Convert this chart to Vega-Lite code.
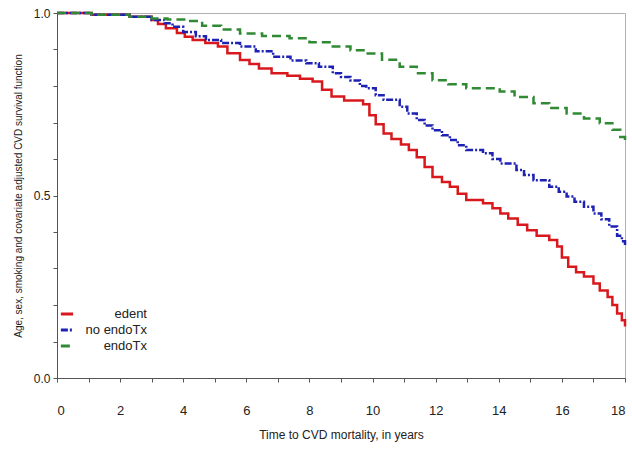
{
  "$schema": "https://vega.github.io/schema/vega-lite/v6.json",
  "width": 568,
  "height": 365,
  "autosize": {"type": "none"},
  "padding": {"left": 57, "top": 13, "right": 7, "bottom": 79},
  "background": "white",
  "config": {
    "font": "Liberation Sans",
    "view": {"stroke": "#b0b0b0", "strokeWidth": 1},
    "axis": {"grid": false, "domainColor": "#555", "tickColor": "#555", "labelColor": "#222", "titleColor": "#222"}
  },
  "datasets": {
    "km": [
      {"group": "edent", "t": 0, "s": 1.0},
      {"group": "edent", "t": 1.1, "s": 0.995},
      {"group": "edent", "t": 2.3, "s": 0.99},
      {"group": "edent", "t": 3.0, "s": 0.981},
      {"group": "edent", "t": 3.2, "s": 0.97},
      {"group": "edent", "t": 3.45, "s": 0.958},
      {"group": "edent", "t": 3.8, "s": 0.945},
      {"group": "edent", "t": 4.05, "s": 0.935},
      {"group": "edent", "t": 4.3, "s": 0.926},
      {"group": "edent", "t": 4.7, "s": 0.918},
      {"group": "edent", "t": 5.1, "s": 0.908},
      {"group": "edent", "t": 5.4, "s": 0.89},
      {"group": "edent", "t": 5.8, "s": 0.871},
      {"group": "edent", "t": 6.1, "s": 0.86},
      {"group": "edent", "t": 6.4, "s": 0.848},
      {"group": "edent", "t": 6.8, "s": 0.835},
      {"group": "edent", "t": 7.3, "s": 0.828},
      {"group": "edent", "t": 7.7, "s": 0.82},
      {"group": "edent", "t": 8.1, "s": 0.812},
      {"group": "edent", "t": 8.4, "s": 0.79},
      {"group": "edent", "t": 8.7, "s": 0.771},
      {"group": "edent", "t": 9.1, "s": 0.76},
      {"group": "edent", "t": 9.7, "s": 0.75},
      {"group": "edent", "t": 9.9, "s": 0.72},
      {"group": "edent", "t": 10.1, "s": 0.695},
      {"group": "edent", "t": 10.35, "s": 0.67},
      {"group": "edent", "t": 10.6, "s": 0.655},
      {"group": "edent", "t": 10.9, "s": 0.64},
      {"group": "edent", "t": 11.15, "s": 0.625},
      {"group": "edent", "t": 11.4, "s": 0.605},
      {"group": "edent", "t": 11.65, "s": 0.578},
      {"group": "edent", "t": 11.9, "s": 0.551},
      {"group": "edent", "t": 12.2, "s": 0.537},
      {"group": "edent", "t": 12.45, "s": 0.524},
      {"group": "edent", "t": 12.7, "s": 0.505},
      {"group": "edent", "t": 12.97, "s": 0.488},
      {"group": "edent", "t": 13.5, "s": 0.479},
      {"group": "edent", "t": 13.8, "s": 0.465},
      {"group": "edent", "t": 14.05, "s": 0.451},
      {"group": "edent", "t": 14.3, "s": 0.437},
      {"group": "edent", "t": 14.6, "s": 0.42},
      {"group": "edent", "t": 14.9, "s": 0.405},
      {"group": "edent", "t": 15.2, "s": 0.39},
      {"group": "edent", "t": 15.6, "s": 0.378},
      {"group": "edent", "t": 15.85, "s": 0.36},
      {"group": "edent", "t": 16.0, "s": 0.33},
      {"group": "edent", "t": 16.2, "s": 0.305},
      {"group": "edent", "t": 16.45, "s": 0.29},
      {"group": "edent", "t": 16.7, "s": 0.278},
      {"group": "edent", "t": 17.0, "s": 0.259},
      {"group": "edent", "t": 17.2, "s": 0.24},
      {"group": "edent", "t": 17.45, "s": 0.222},
      {"group": "edent", "t": 17.6, "s": 0.2},
      {"group": "edent", "t": 17.75, "s": 0.177},
      {"group": "edent", "t": 17.9, "s": 0.158},
      {"group": "edent", "t": 18.0, "s": 0.141},
      {"group": "no endoTx", "t": 0, "s": 1.0},
      {"group": "no endoTx", "t": 1.1, "s": 0.995},
      {"group": "no endoTx", "t": 2.3, "s": 0.99},
      {"group": "no endoTx", "t": 3.0, "s": 0.981},
      {"group": "no endoTx", "t": 3.4, "s": 0.972},
      {"group": "no endoTx", "t": 3.66, "s": 0.962},
      {"group": "no endoTx", "t": 4.0, "s": 0.948},
      {"group": "no endoTx", "t": 4.4, "s": 0.936},
      {"group": "no endoTx", "t": 4.72, "s": 0.926},
      {"group": "no endoTx", "t": 5.2, "s": 0.918},
      {"group": "no endoTx", "t": 5.8, "s": 0.908},
      {"group": "no endoTx", "t": 6.3, "s": 0.895},
      {"group": "no endoTx", "t": 6.85, "s": 0.88},
      {"group": "no endoTx", "t": 7.4, "s": 0.87},
      {"group": "no endoTx", "t": 7.9, "s": 0.862},
      {"group": "no endoTx", "t": 8.3, "s": 0.853},
      {"group": "no endoTx", "t": 8.74, "s": 0.835},
      {"group": "no endoTx", "t": 9.0, "s": 0.825},
      {"group": "no endoTx", "t": 9.3, "s": 0.815},
      {"group": "no endoTx", "t": 9.6, "s": 0.8},
      {"group": "no endoTx", "t": 9.8, "s": 0.794},
      {"group": "no endoTx", "t": 10.1, "s": 0.775},
      {"group": "no endoTx", "t": 10.35, "s": 0.762},
      {"group": "no endoTx", "t": 10.86, "s": 0.743},
      {"group": "no endoTx", "t": 11.1, "s": 0.725},
      {"group": "no endoTx", "t": 11.4, "s": 0.707},
      {"group": "no endoTx", "t": 11.65, "s": 0.692},
      {"group": "no endoTx", "t": 11.9, "s": 0.679},
      {"group": "no endoTx", "t": 12.2, "s": 0.665},
      {"group": "no endoTx", "t": 12.45, "s": 0.652},
      {"group": "no endoTx", "t": 12.7, "s": 0.638},
      {"group": "no endoTx", "t": 12.97, "s": 0.625},
      {"group": "no endoTx", "t": 13.5, "s": 0.616},
      {"group": "no endoTx", "t": 13.8, "s": 0.6},
      {"group": "no endoTx", "t": 14.05, "s": 0.588},
      {"group": "no endoTx", "t": 14.56, "s": 0.57},
      {"group": "no endoTx", "t": 14.8, "s": 0.556},
      {"group": "no endoTx", "t": 15.1, "s": 0.542},
      {"group": "no endoTx", "t": 15.6, "s": 0.524},
      {"group": "no endoTx", "t": 15.9, "s": 0.51},
      {"group": "no endoTx", "t": 16.15, "s": 0.497},
      {"group": "no endoTx", "t": 16.4, "s": 0.483},
      {"group": "no endoTx", "t": 16.7, "s": 0.469},
      {"group": "no endoTx", "t": 17.0, "s": 0.451},
      {"group": "no endoTx", "t": 17.25, "s": 0.435},
      {"group": "no endoTx", "t": 17.5, "s": 0.415},
      {"group": "no endoTx", "t": 17.75, "s": 0.39},
      {"group": "no endoTx", "t": 17.9, "s": 0.375},
      {"group": "no endoTx", "t": 18.0, "s": 0.36},
      {"group": "endoTx", "t": 0, "s": 1.0},
      {"group": "endoTx", "t": 1.1, "s": 0.995},
      {"group": "endoTx", "t": 2.3, "s": 0.99},
      {"group": "endoTx", "t": 3.0, "s": 0.985},
      {"group": "endoTx", "t": 3.5, "s": 0.982},
      {"group": "endoTx", "t": 4.08, "s": 0.978},
      {"group": "endoTx", "t": 4.6, "s": 0.965},
      {"group": "endoTx", "t": 5.2, "s": 0.955},
      {"group": "endoTx", "t": 5.8, "s": 0.944},
      {"group": "endoTx", "t": 6.5, "s": 0.937},
      {"group": "endoTx", "t": 7.37, "s": 0.931},
      {"group": "endoTx", "t": 8.0, "s": 0.92},
      {"group": "endoTx", "t": 8.74, "s": 0.908},
      {"group": "endoTx", "t": 9.3, "s": 0.898},
      {"group": "endoTx", "t": 9.8, "s": 0.889},
      {"group": "endoTx", "t": 10.3, "s": 0.872},
      {"group": "endoTx", "t": 10.86, "s": 0.853},
      {"group": "endoTx", "t": 11.4, "s": 0.835},
      {"group": "endoTx", "t": 11.9, "s": 0.816},
      {"group": "endoTx", "t": 12.4, "s": 0.805},
      {"group": "endoTx", "t": 12.97, "s": 0.794},
      {"group": "endoTx", "t": 14.03, "s": 0.785},
      {"group": "endoTx", "t": 14.5, "s": 0.77},
      {"group": "endoTx", "t": 15.1, "s": 0.753},
      {"group": "endoTx", "t": 15.6, "s": 0.74},
      {"group": "endoTx", "t": 16.15, "s": 0.725},
      {"group": "endoTx", "t": 16.7, "s": 0.711},
      {"group": "endoTx", "t": 17.2, "s": 0.698},
      {"group": "endoTx", "t": 17.6, "s": 0.68},
      {"group": "endoTx", "t": 17.85, "s": 0.66},
      {"group": "endoTx", "t": 18.0, "s": 0.643}
    ]
  },
  "data": {"name": "km"},
  "mark": {"type": "line", "interpolate": "step-after", "strokeWidth": 2.5},
  "encoding": {
    "x": {
      "field": "t", "type": "quantitative",
      "scale": {"domain": [0, 18], "nice": false, "zero": false},
      "axis": {
        "title": "Time to CVD mortality, in years",
        "values": [0, 1, 2, 3, 4, 5, 6, 7, 8, 9, 10, 11, 12, 13, 14, 15, 16, 17, 18],
        "labelExpr": "datum.value % 2 == 0 ? datum.label : ''",
        "labelFontSize": 13, "labelPadding": 22, "tickSize": 4,
        "titleFontSize": 12, "titleFontWeight": "normal", "titlePadding": 12
      }
    },
    "y": {
      "field": "s", "type": "quantitative",
      "scale": {"domain": [0, 1], "nice": false},
      "axis": {
        "title": "Age, sex, smoking and covariate adjusted CVD survival function",
        "values": [0, 0.1, 0.2, 0.3, 0.4, 0.5, 0.6, 0.7, 0.8, 0.9, 1],
        "labelExpr": "(datum.value == 0 || datum.value == 0.5 || datum.value == 1) ? format(datum.value, '.1f') : ''",
        "labelFontSize": 12, "labelPadding": 3, "tickSize": 4,
        "titleFontSize": 10, "titleFontWeight": "normal", "titlePadding": 10
      }
    },
    "color": {
      "field": "group", "type": "nominal",
      "scale": {"domain": ["edent", "no endoTx", "endoTx"], "range": ["#d8181c", "#1e22b4", "#2f8a33"]},
      "legend": {
        "title": null, "orient": "none", "legendX": 2, "legendY": 293,
        "symbolType": "stroke", "symbolSize": 150, "symbolStrokeWidth": 3,
        "labelFontSize": 13, "labelColor": "#222", "rowPadding": 1,
        "labelAlign": "right", "labelOffset": 72
      }
    },
    "strokeDash": {
      "field": "group", "type": "nominal",
      "scale": {"domain": ["edent", "no endoTx", "endoTx"], "range": [[1, 0], [7, 2, 2, 2], [9, 5]]},
      "legend": null
    }
  }
}
